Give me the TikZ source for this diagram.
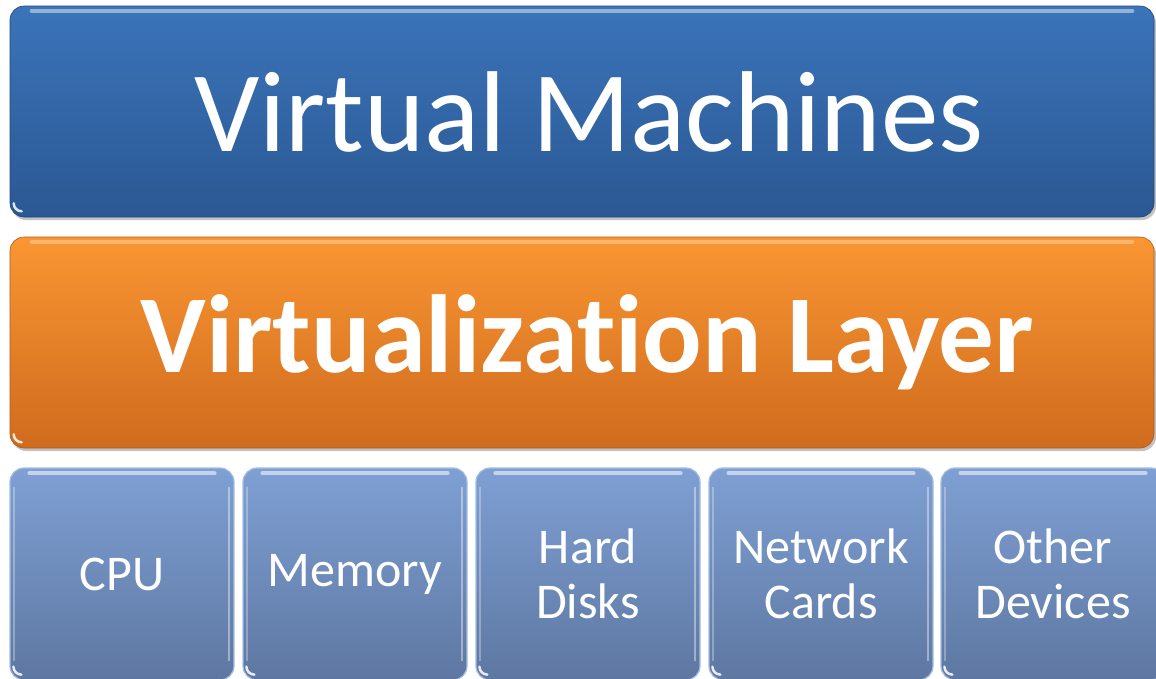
\documentclass[tikz,border=0pt]{standalone}
\usepackage{fontspec}
\setmainfont[Ligatures=NoCommon]{Carlito}
\definecolor{vmtop}{HTML}{3B74BA}
\definecolor{vmbot}{HTML}{2A5893}
\definecolor{ortop}{HTML}{FA9632}
\definecolor{orbot}{HTML}{CF6B1D}
\definecolor{hwtop}{HTML}{7FA0D4}
\definecolor{hwbot}{HTML}{5D77A1}
\definecolor{shadowgray}{HTML}{A8A8A8}
\begin{document}
\begin{tikzpicture}[x=1pt,y=-1pt,
  layerbox/.style={rounded corners=14pt, inner sep=0pt, text=white, align=center},
  vmbox/.style={layerbox, top color=vmtop, bottom color=vmbot, draw=vmbot!80!black, line width=0.6pt,
      minimum width=1144pt, minimum height=211pt},
  vlbox/.style={layerbox, top color=ortop, bottom color=orbot, draw=orbot!85!black, line width=0.6pt,
      minimum width=1144pt, minimum height=211pt},
  hwbox/.style={layerbox, top color=hwtop, bottom color=hwbot, draw=hwtop!70!white, line width=1.2pt,
      minimum width=224pt, minimum height=212pt, font=\fontsize{50}{55}\selectfont},
  bigtext/.style={text=white, inner sep=0pt},
  gloss/.style={white, opacity=0.45, line width=4pt, line cap=round},
  corner/.style={white, opacity=0.85, line width=2.5pt, line cap=round},
  dropshadow/.style={fill=shadowgray, rounded corners=14pt, opacity=0.7}
]
\useasboundingbox (0,0) rectangle (1156,678);
\clip (0,0) rectangle (1156,678);

% shadows
\fill[dropshadow] (12,9) rectangle (1156,220);
\fill[dropshadow] (12,240) rectangle (1156,451);

% top layer
\node[vmbox] (vm) at (582,111.5) {};
\node[bigtext, font=\fontsize{115}{115}\selectfont] (vmtext) at ([xshift=7pt]vm.center) {Virtual Machines};
\draw[gloss] ([xshift=22pt,yshift=-5pt]vm.north west) -- ([xshift=-22pt,yshift=-5pt]vm.north east);
\draw[corner] ([xshift=4pt,yshift=14pt]vm.south west) arc[start angle=180,end angle=270,radius=8pt];

% virtualization layer
\node[vlbox] (vl) at (582,342.5) {};
\node[bigtext, font=\bfseries\fontsize{111}{111}\selectfont] (vltext) at ([xshift=5pt]vl.center) {Virtualization Layer};
\draw[gloss, opacity=0.3] ([xshift=22pt,yshift=-5pt]vl.north west) -- ([xshift=-22pt,yshift=-5pt]vl.north east);
\draw[corner] ([xshift=4pt,yshift=14pt]vl.south west) arc[start angle=180,end angle=270,radius=8pt];

% hardware boxes
\node[hwbox] (cpu) at (122,574) {CPU};
\node[hwbox] (mem) at (355,574) {Memory};
\node[hwbox] (hdd) at (588,574) {Hard\\Disks};
\node[hwbox] (net) at (821,574) {Network\\Cards};
\node[hwbox] (oth) at (1053,574) {Other\\Devices};
\foreach \b in {cpu,mem,hdd,net,oth} {
  \draw[gloss, opacity=0.55] ([xshift=20pt,yshift=-6pt]\b.north west) -- ([xshift=-20pt,yshift=-6pt]\b.north east);
  \draw[white, opacity=0.4, line width=2pt] ([xshift=-6pt,yshift=-20pt]\b.north east) -- ([xshift=-6pt,yshift=20pt]\b.south east);
  \draw[white, opacity=0.3, line width=2pt] ([xshift=5pt,yshift=-20pt]\b.north west) -- ([xshift=5pt,yshift=20pt]\b.south west);
  \draw[corner] ([xshift=4pt,yshift=14pt]\b.south west) arc[start angle=180,end angle=270,radius=8pt];
}
\end{tikzpicture}
\end{document}
